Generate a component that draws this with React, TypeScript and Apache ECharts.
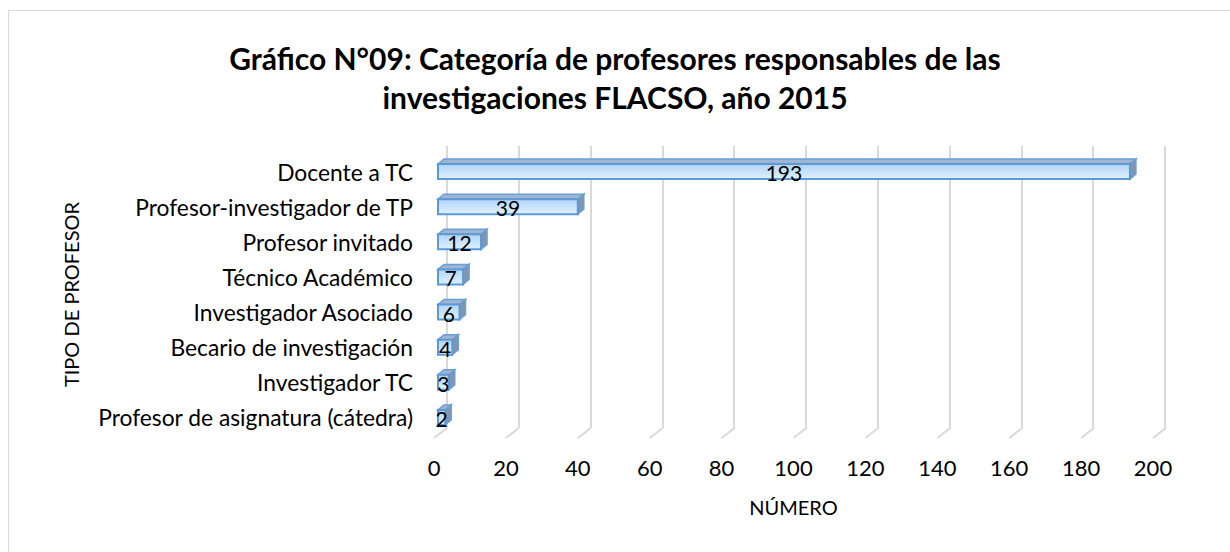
import React, { useEffect, useRef } from "react";
import * as echarts from "echarts";

const categories = [
  "Docente a TC",
  "Profesor-investigador de TP",
  "Profesor invitado",
  "Técnico Académico",
  "Investigador Asociado",
  "Becario de investigación",
  "Investigador TC",
  "Profesor de asignatura (cátedra)",
];
const values = [193, 39, 12, 7, 6, 4, 3, 2];
const xTicks = [0, 20, 40, 60, 80, 100, 120, 140, 160, 180, 200];
const titleLines = [
  "Gráfico N°09: Categoría de profesores responsables de las",
  "investigaciones FLACSO, año 2015",
];

const FONT = "Lato, 'Noto Sans', sans-serif";

export default function App() {
  const ref = useRef<HTMLDivElement>(null);
  useEffect(() => {
    if (!ref.current) return;
    const chart = echarts.init(ref.current, null, { renderer: "svg" });
    const frontGradient = new echarts.graphic.LinearGradient(0, 0, 0, 1, [
      { offset: 0, color: "#b1d3f6" },
      { offset: 0.5, color: "#c9e2fb" },
      { offset: 1, color: "#e0f0ff" },
    ]);
    const titleStyle = {
      fontFamily: FONT,
      fontSize: 30,
      fontWeight: "bold",
      color: "#000000",
      lineHeight: 36,
    };
    const option: any = {
      animation: false,
      backgroundColor: "#ffffff",
      textStyle: { fontFamily: FONT },
      title: [
        { text: titleLines[0], left: "center", top: 40, padding: 0, textStyle: titleStyle },
        { text: titleLines[1], left: "center", top: 79, padding: 0, textStyle: titleStyle },
      ],
      graphic: [
        {
          type: "rect",
          shape: { x: 8.5, y: 10.5, width: 1300, height: 600 },
          style: { fill: "none", stroke: "#d9d9d9", lineWidth: 1 },
          silent: true,
          z: -10,
        },
      ],
      grid: [
        // front floor (tick labels, floor diagonals)
        { left: 434, right: 77, top: 154, bottom: 114 },
        // back wall (gridlines)
        { left: 447, right: 65, top: 146, bottom: 124 },
        // bars
        { left: 438, right: 75, top: 154, bottom: 117 },
      ],
      xAxis: [
        {
          gridIndex: 0,
          type: "value",
          min: 0,
          max: 200,
          interval: 20,
          axisLine: { show: false },
          axisTick: { show: false },
          splitLine: { show: false },
          axisLabel: {
            margin: 18,
            fontSize: 22,
            color: "#000000",
            fontFamily: FONT,
            formatter: (v: number) => (xTicks.indexOf(v) >= 0 ? String(v) : ""),
          },
          name: "NÚMERO",
          nameLocation: "middle",
          nameGap: 59,
          nameTextStyle: { fontSize: 20, color: "#000000", fontFamily: FONT },
        },
        {
          gridIndex: 1,
          type: "value",
          min: 0,
          max: 200,
          interval: 20,
          axisLine: { show: false },
          axisTick: { show: false },
          axisLabel: { show: false },
          splitLine: { show: true, lineStyle: { color: "#d9d9d9", width: 2 } },
        },
        {
          gridIndex: 2,
          type: "value",
          min: 0,
          max: 200,
          show: false,
        },
      ],
      yAxis: [
        { gridIndex: 0, type: "value", min: 0, max: 1, show: false },
        { gridIndex: 1, type: "value", min: 0, max: 1, show: false },
        {
          gridIndex: 2,
          type: "category",
          data: categories,
          inverse: true,
          axisLine: { show: false },
          axisTick: { show: false },
          splitLine: { show: false },
          axisLabel: {
            margin: 25,
            fontSize: 22.8,
            color: "#000000",
            fontFamily: FONT,
          },
          name: "TIPO DE PROFESOR",
          nameLocation: "middle",
          nameGap: 357,
          nameTextStyle: { fontSize: 20, color: "#000000", fontFamily: FONT },
        },
      ],
      series: [
        {
          type: "custom",
          name: "floor",
          xAxisIndex: 0,
          yAxisIndex: 0,
          silent: true,
          data: xTicks.map((t) => [t, 0]),
          encode: { x: 0, y: 1 },
          renderItem: (params: any, api: any) => {
            const p = api.coord([api.value(0), 0]);
            return {
              type: "line",
              shape: { x1: p[0], y1: p[1], x2: p[0] + 13, y2: p[1] - 10 },
              style: { stroke: "#d9d9d9", lineWidth: 2 },
            };
          },
        },
        {
          type: "custom",
          name: "bars",
          xAxisIndex: 2,
          yAxisIndex: 2,
          data: values.map((v, i) => [v, i]),
          encode: { x: 0, y: 1 },
          z: 5,
          renderItem: (params: any, api: any) => {
            const v = api.value(0);
            const c = api.value(1);
            const s = api.coord([0, c]);
            const e = api.coord([v, c]);
            const band = api.size([0, 1])[1];
            const h = band * 0.43;
            const x0 = s[0];
            const x1 = e[0];
            const y0 = s[1] - h / 2;
            const y1 = s[1] + h / 2;
            const dx = 6;
            const dy = 5;
            return {
              type: "group",
              children: [
                {
                  type: "polygon",
                  shape: { points: [[x0, y0], [x0 + dx, y0 - dy], [x1 + dx, y0 - dy], [x1, y0]] },
                  style: { fill: "#9fb5d1", stroke: "#6a9fd6", lineWidth: 1.5 },
                },
                {
                  type: "polygon",
                  shape: { points: [[x1, y0], [x1 + dx, y0 - dy], [x1 + dx, y1 - dy], [x1, y1]] },
                  style: { fill: "#8295ae", stroke: "#6a9fd6", lineWidth: 1.5 },
                },
                {
                  type: "rect",
                  shape: { x: x0, y: y0, width: x1 - x0, height: y1 - y0 },
                  style: { fill: frontGradient, stroke: "#5b9bd5", lineWidth: 2 },
                },
                {
                  type: "text",
                  style: {
                    text: String(v),
                    x: (x0 + x1) / 2,
                    y: s[1] + 1,
                    align: "center",
                    verticalAlign: "middle",
                    fontSize: 21,
                    fontFamily: FONT,
                    fill: "#000000",
                  },
                },
              ],
            };
          },
        },
      ],
    };
    chart.setOption(option);
    return () => chart.dispose();
  }, []);
  return (
    <div
      ref={ref}
      style={{ position: "fixed", left: 0, top: 0, width: 1230, height: 552 }}
    />
  );
}
